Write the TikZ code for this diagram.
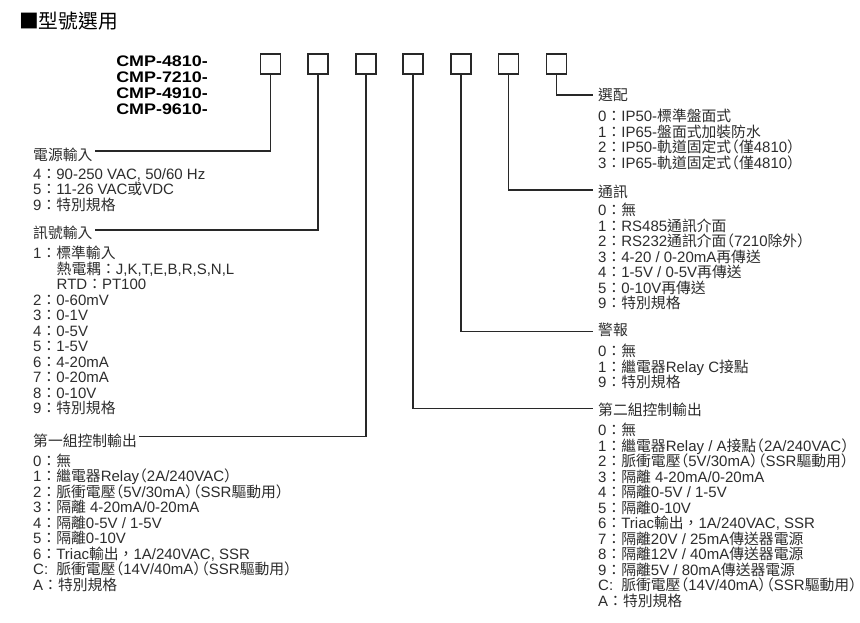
\documentclass[tikz,border=0pt]{standalone}
\usepackage{fontspec}
\setmainfont{Liberation Sans}
\newfontfamily\cjkfont{Noto Sans CJK TC}[Scale=0.987]
\newfontfamily\cmpfont{Liberation Sans}[FakeStretch=1.17]
\XeTeXinterchartokenstate=1
\newXeTeXintercharclass\cjkcls
\makeatletter
\count@="2E80
\loop
  \XeTeXcharclass\count@=\cjkcls
  \advance\count@\@ne
\ifnum\count@<"A000 \repeat
\count@="FF00
\loop
  \XeTeXcharclass\count@=\cjkcls
  \advance\count@\@ne
\ifnum\count@<"FFF0 \repeat
\XeTeXcharclass"25A0=\cjkcls
\makeatother
\XeTeXinterchartoks 0 \cjkcls = {\begingroup\cjkfont}
\XeTeXinterchartoks 4095 \cjkcls = {\begingroup\cjkfont}
\XeTeXinterchartoks \cjkcls 0 = {\endgroup}
\XeTeXinterchartoks \cjkcls 4095 = {\endgroup}
\definecolor{txt}{RGB}{45,45,45}
\definecolor{ln}{RGB}{40,40,40}
\newcommand\bodyfont{\fontsize{15}{15.5}\selectfont\lineskiplimit=-20pt\relax}
\newcommand\cc{\makebox[23.1pt][l]{C:}}
\newcommand\lp{\kern-7pt（}
\newcommand\rp{）\kern-7pt\relax}
\tikzset{
  selbox/.style={draw=ln, line width=1.5pt, minimum width=20pt, minimum height=20pt, inner sep=0pt},
  conn/.style={draw=ln, line width=1.2pt},
  items/.style={anchor=base west, inner sep=0pt, align=left, font=\bodyfont, text=txt},
  lablft/.style={anchor=west, inner xsep=2pt, inner ysep=0pt, font=\bodyfont, text=txt},
  labrgt/.style={anchor=west, inner xsep=5pt, inner ysep=0pt, font=\bodyfont, text=txt},
}
\begin{document}
\begin{tikzpicture}[x=1pt,y=-1pt]
\useasboundingbox[fill=white] (0,0) rectangle (860,622);
% title
\node[anchor=base west, inner sep=0pt, font=\fontsize{20}{20}\selectfont] (title) at (19,28.5) {■型號選用};
% model (base = last line)
\node[anchor=base east, inner sep=0pt, align=right, font={\cmpfont\bfseries\fontsize{15.3}{16.1}\selectfont\lineskiplimit=-20pt\relax}] (cmp) at (208,114.3) {CMP-4810-\\CMP-7210-\\CMP-4910-\\CMP-9610-};
% boxes
\node[selbox] (b1) at (270.5,64) {};
\node[selbox] (b2) at (318,64) {};
\node[selbox] (b3) at (366,64) {};
\node[selbox] (b4) at (413,64) {};
\node[selbox] (b5) at (461,64) {};
\node[selbox] (b6) at (508.7,64) {};
\node[selbox] (b7) at (556.3,64) {};
% left labels
\node[lablft] (lab1) at (31,154.5) {電源輸入};
\node[lablft] (lab2) at (31,232.7) {訊號輸入};
\node[lablft] (lab3) at (31,441) {第一組控制輸出};
% right labels
\node[labrgt] (lab7) at (593,95.3) {選配};
\node[labrgt] (lab6) at (593,191.7) {通訊};
\node[labrgt] (lab5) at (593,330) {警報};
\node[labrgt] (lab4) at (593,410) {第二組控制輸出};
% line levels
\coordinate (y1) at (0,151);
\coordinate (y2) at (0,230);
\coordinate (y3) at (0,436.5);
\coordinate (y7) at (0,95);
\coordinate (y6) at (0,190);
\coordinate (y5) at (0,331.7);
\coordinate (y4) at (0,408.3);
% connectors
\draw[conn] (b1.south) |- (lab1.east |- y1);
\draw[conn] (b2.south) |- (lab2.east |- y2);
\draw[conn] (b3.south) |- (lab3.east |- y3);
\draw[conn] (b7.south) |- (lab7.west |- y7);
\draw[conn] (b6.south) |- (lab6.west |- y6);
\draw[conn] (b5.south) |- (lab5.west |- y5);
\draw[conn] (b4.south) |- (lab4.west |- y4);
% item lists (base anchor = baseline of the last line)
\node[items] (pw) at (33,210.3) {4：90-250 VAC, 50/60 Hz\\5：11-26 VAC或VDC\\9：特別規格};
\node[items] (sg) at (33,413.7) {1：標準輸入\\\hspace*{23.5pt}熱電耦：J,K,T,E,B,R,S,N,L\\\hspace*{23.5pt}RTD：PT100\\2：0-60mV\\3：0-1V\\4：0-5V\\5：1-5V\\6：4-20mA\\7：0-20mA\\8：0-10V\\9：特別規格};
\node[items] (o1) at (33,590) {0：無\\1：繼電器Relay\lp 2A/240VAC\rp\\2：脈衝電壓\lp 5V/30mA\rp\lp SSR驅動用\rp\\3：隔離 4-20mA/0-20mA\\4：隔離0-5V / 1-5V\\5：隔離0-10V\\6：Triac輸出，1A/240VAC, SSR\\\cc 脈衝電壓\lp 14V/40mA\rp\lp SSR驅動用\rp\\A：特別規格};
\node[items] (op) at (598,168) {0：IP50-標準盤面式\\1：IP65-盤面式加裝防水\\2：IP50-軌道固定式\lp 僅4810\rp\\3：IP65-軌道固定式\lp 僅4810\rp};
\node[items] (cm) at (598,308.5) {0：無\\1：RS485通訊介面\\2：RS232通訊介面\lp 7210除外\rp\\3：4-20 / 0-20mA再傳送\\4：1-5V / 0-5V再傳送\\5：0-10V再傳送\\9：特別規格};
\node[items] (al) at (598,387.5) {0：無\\1：繼電器Relay C接點\\9：特別規格};
\node[items] (o2) at (598,606) {0：無\\1：繼電器Relay / A接點\lp 2A/240VAC\rp\\2：脈衝電壓\lp 5V/30mA\rp\lp SSR驅動用\rp\\3：隔離 4-20mA/0-20mA\\4：隔離0-5V / 1-5V\\5：隔離0-10V\\6：Triac輸出，1A/240VAC, SSR\\7：隔離20V / 25mA傳送器電源\\8：隔離12V / 40mA傳送器電源\\9：隔離5V / 80mA傳送器電源\\\cc 脈衝電壓\lp 14V/40mA\rp\lp SSR驅動用\rp\\A：特別規格};
\end{tikzpicture}
\end{document}
